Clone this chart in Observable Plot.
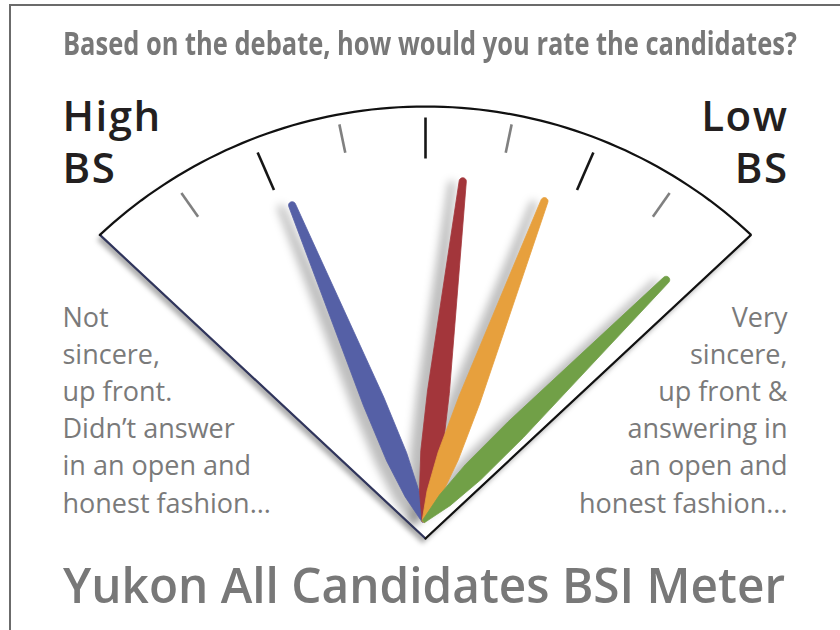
<!DOCTYPE html>
<html><head><meta charset="utf-8">
<script src="https://cdn.jsdelivr.net/npm/d3@7"></script>
<script src="https://cdn.jsdelivr.net/npm/@observablehq/plot@0.6"></script>
<style>
html,body{margin:0;padding:0;background:#fff;}
#page{position:relative;width:840px;height:630px;overflow:hidden;background:#fff;}
#frame{position:absolute;left:9px;top:4px;width:900px;height:700px;border-left:2px solid #6b6b6b;border-top:2px solid #6b6b6b;}
.ttl{position:absolute;white-space:nowrap;line-height:1;color:#787878;transform-origin:0 0;font-family:"Open Sans",sans-serif;}
#title{left:63px;top:27px;font-size:32px;font-weight:700;}
#caption{left:63px;top:560px;font-size:49px;font-weight:600;}
#chart{position:absolute;left:0;top:78px;}
</style></head><body>
<div id="page"><div id="frame"></div>
<div id="title" class="ttl"></div>
<div id="chart"></div>
<div id="caption" class="ttl"></div>
</div>
<script>
// ---- data ----
const titleText = "Based on the debate, how would you rate the candidates?";
const captionText = "Yukon All Candidates BSI Meter";
const needleNames = ["Blue", "Red", "Orange", "Green"];
const needleColors = ["#5560a6", "#a3363b", "#e7a03d", "#71a047"];
const needleScores = [26, 57, 72, 98];           // 0 = High BS, 100 = Low BS
const tickValues = [12.5, 25, 37.5, 50, 62.5, 75, 87.5];
const tickMajor = [false, true, false, true, false, true, false];
const highLabel = ["High", "BS"];
const lowLabel = ["Low", "BS"];
const leftNote = ["Not", "sincere,", "up front.", "Didn’t answer", "in an open and", "honest fashion..."];
const rightNote = ["Very", "sincere,", "up front &", "answering in", "an open and", "honest fashion..."];

// ---- geometry (pixel-like units, origin at dial apex, y up) ----
const SWEEP = 47;
const rad = Math.PI / 180;
const angleOf = v => (-SWEEP + v / 100 * 2 * SWEEP) * rad;
const pivot = [-2, 17];
const needleLen = 346;
const arcC = [0, -45], arcR = 477;
const DIAL_SHADOW = "#010101", NEEDLE_SHADOW = "#020202", BIG_TEXT = "#231f20";

function rayToArc(a) {
  const ux = Math.sin(a), uy = Math.cos(a);
  const b = ux * arcC[0] + uy * arcC[1];
  const c = arcC[0] ** 2 + arcC[1] ** 2 - arcR ** 2;
  const t = b + Math.sqrt(b * b - c);
  return [t * ux, t * uy];
}
const cornerL = rayToArc(-SWEEP * rad), cornerR = rayToArc(SWEEP * rad);
const phi0 = Math.atan2(cornerL[0] - arcC[0], cornerL[1] - arcC[1]);
const arcPts = d3.range(0, 81).map(k => {
  const p = phi0 + (-2 * phi0) * k / 80;
  return [arcC[0] + arcR * Math.sin(p), arcC[1] + arcR * Math.cos(p)];
});
const dialPoly = [[0, 0], cornerL, ...arcPts, cornerR].map(([x, y]) => ({x, y}));
const leftEdge = [cornerL, [0, 0]].map(([x, y]) => ({x, y}));
const arcEdge = [...arcPts, cornerR, [0, 0]].map(([x, y]) => ({x, y}));

const ticks = tickValues.map((v, i) => {
  const a = angleOf(v), r0 = tickMajor[i] ? 380 : 394, r1 = tickMajor[i] ? 421 : 423;
  return {x1: r0 * Math.sin(a), y1: r0 * Math.cos(a), x2: r1 * Math.sin(a), y2: r1 * Math.cos(a),
          color: tickMajor[i] ? "#161616" : "#808080"};
});

function needlePolygon(v) {
  const a = angleOf(v), ux = Math.sin(a), uy = Math.cos(a), nx = Math.cos(a), ny = -Math.sin(a);
  const tipR = 3.6;
  const prof = [[0, 1.5], [30, 7.5], [70, 10.8], [130, 11], [needleLen - tipR, tipR]];
  const pts = [];
  for (const [s, w] of prof) pts.push([s, -w]);
  for (let k = 1; k < 12; k++) {
    const t = -Math.PI / 2 + k * Math.PI / 12;
    pts.push([needleLen - tipR + tipR * Math.cos(t), tipR * Math.sin(t)]);
  }
  for (const [s, w] of prof.slice().reverse()) pts.push([s, w]);
  return pts.map(([s, c]) => [pivot[0] + s * ux + c * nx, pivot[1] + s * uy + c * ny]);
}
const needleRows = needleScores.flatMap((v, i) =>
  needlePolygon(v).map(([x, y]) => ({id: needleNames[i], color: needleColors[i], x, y})));

const txt = {fontFamily: "Open Sans", lineAnchor: "bottom"};
const chart = Plot.plot({
  width: 840, height: 475, margin: 0,
  x: {domain: [-425, 415], axis: null},
  y: {domain: [-15, 460], axis: null},
  color: {type: "identity"},
  style: {background: "transparent", overflow: "visible"},
  marks: [
    Plot.line(dialPoly, {x: "x", y: "y", curve: "linear-closed", fill: DIAL_SHADOW, fillOpacity: 0.32, stroke: "none", dx: -3, dy: 5}),
    Plot.line(dialPoly, {x: "x", y: "y", curve: "linear-closed", fill: "#fff", stroke: "none"}),
    Plot.link(ticks, {x1: "x1", y1: "y1", x2: "x2", y2: "y2", stroke: "color", strokeWidth: 2.6}),
    Plot.line(needleRows, {x: "x", y: "y", z: "id", curve: "linear-closed", fill: NEEDLE_SHADOW, fillOpacity: 0.26, stroke: "none", dx: -11, dy: 3}),
    Plot.line(needleRows, {x: "x", y: "y", z: "id", curve: "linear-closed", fill: "color", stroke: "color", strokeWidth: 0.8}),
    Plot.line(leftEdge, {x: "x", y: "y", stroke: "#30355c", strokeWidth: 2.2}),
    Plot.line(arcEdge, {x: "x", y: "y", stroke: "#111", strokeWidth: 2.2, strokeLinejoin: "miter"}),
    Plot.text([highLabel.join("\n")], {...txt, x: -363, y: 356, text: d => d, textAnchor: "start", fontSize: 42, fontWeight: 600, lineHeight: 52 / 42, fill: BIG_TEXT}),
    Plot.text([lowLabel.join("\n")], {...txt, x: 363, y: 356, text: d => d, textAnchor: "end", fontSize: 42, fontWeight: 600, lineHeight: 52 / 42, fill: BIG_TEXT}),
    Plot.text([leftNote.join("\n")], {...txt, x: -363, y: 26, text: d => d, textAnchor: "start", fontSize: 27, lineHeight: 37.2 / 27, fill: "#7a7a7a"}),
    Plot.text([rightNote.join("\n")], {...txt, x: 362, y: 26, text: d => d, textAnchor: "end", fontSize: 27, lineHeight: 37.2 / 27, fill: "#7a7a7a"})
  ]
});
document.getElementById("chart").append(chart);

// soft drop shadows and letter spacing, applied to the rendered groups
const svg = d3.select(chart);
const byFill = f => svg.selectAll("g").filter(function() { return (this.getAttribute("fill") || "").toLowerCase() === f; });
byFill(DIAL_SHADOW).style("filter", "blur(2.5px)");
byFill(NEEDLE_SHADOW).style("filter", "blur(4.5px)");
byFill(BIG_TEXT).selectAll("text").style("letter-spacing", "1.5px");

const titleEl = document.getElementById("title");
const captionEl = document.getElementById("caption");
titleEl.textContent = titleText;
captionEl.textContent = captionText;
function fitWidth(el, target) {
  const w = el.getBoundingClientRect().width;
  el.style.transform = `scaleX(${target / w})`;
}
fitWidth(titleEl, 734);
fitWidth(captionEl, 722);
</script>
</body></html>
